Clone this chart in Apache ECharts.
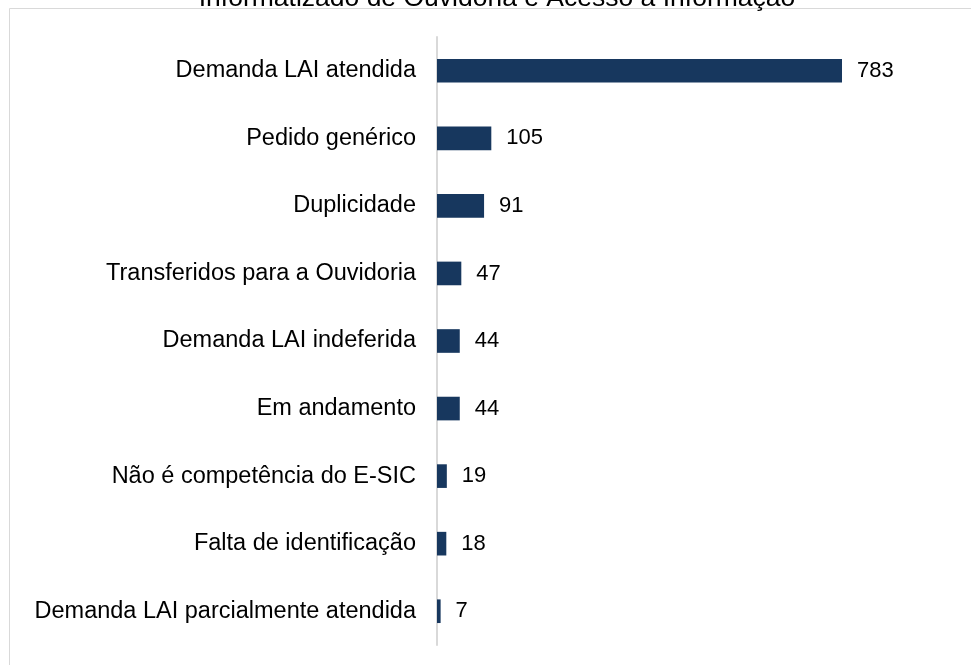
<!DOCTYPE html>
<html><head><meta charset="utf-8">
<script src="https://cdn.jsdelivr.net/npm/echarts@6/dist/echarts.min.js"></script>
<style>html,body{margin:0;padding:0;background:#fff}#c{width:971px;height:665px}</style>
</head><body><div id="c"></div>
<script>
const categories = ['Demanda LAI atendida','Pedido genérico','Duplicidade','Transferidos para a Ouvidoria','Demanda LAI indeferida','Em andamento','Não é competência do E-SIC','Falta de identificação','Demanda LAI parcialmente atendida'];
const values = [783,105,91,47,44,44,19,18,7];
const titleText = 'Informatizado de Ouvidoria e Acesso à Informação';
const FONT = 'Liberation Sans, Arial, sans-serif';
const chart = echarts.init(document.getElementById('c'), null, {renderer:'canvas'});
chart.setOption({
  animation:false,
  backgroundColor:'#fff',
  graphic:[
    {type:'rect', shape:{x:9.5,y:8.5,width:1000,height:700}, style:{fill:'none',stroke:'#d9d9d9',lineWidth:1}, silent:true},
    {type:'text', x:497, y:12, style:{text:titleText, font:'26.5px '+FONT, fill:'#000', align:'center', verticalAlign:'bottom'}, silent:true}
  ],
  grid:{left:437, top:37, width:413.8, height:608, containLabel:false},
  xAxis:{type:'value', min:0, max:800, show:false},
  yAxis:{type:'category', data:categories, inverse:true,
    axisLine:{show:true, lineStyle:{color:'#d9d9d9', width:2}},
    axisTick:{show:false},
    axisLabel:{color:'#000', fontSize:23.5, fontFamily:FONT, margin:21}
  },
  series:[{type:'bar', data:values, barWidth:'35%', itemStyle:{color:'#17375E'},
    label:{show:true, position:'right', distance:15, color:'#000', fontSize:22, fontFamily:FONT}
  }]
});
</script></body></html>
